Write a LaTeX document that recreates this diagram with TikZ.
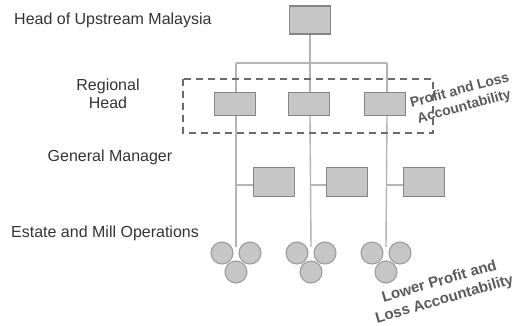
\documentclass[tikz,border=0pt]{standalone}
\usepackage{fontspec}
\setmainfont{Liberation Sans}
\definecolor{boxfill}{HTML}{C6C6C6}
\definecolor{boxline}{HTML}{858585}
\definecolor{conn}{HTML}{B4B4B4}
\definecolor{txt}{HTML}{333333}
\definecolor{dashcol}{HTML}{6A6A6A}
\definecolor{rot}{HTML}{5A5A5A}
\begin{document}
\begin{tikzpicture}[x=1pt,y=-1pt,
  orgbox/.style={draw=boxline,fill=boxfill,line width=1.3pt,inner sep=0pt,minimum width=41pt,minimum height=23pt},
  unit/.style={circle,draw=boxline!80,fill=boxfill,line width=1.1pt,inner sep=0pt,minimum size=22pt},
  conline/.style={draw=conn,line width=1.4pt},
  lbl/.style={text=txt,font=\fontsize{16}{18}\selectfont,inner sep=0pt,align=center},
  rotlbl/.style={text=rot,font=\bfseries\fontsize{14}{17}\selectfont,inner sep=0pt,align=center,rotate=15}]
\useasboundingbox (0,0) rectangle (515,325);
% labels
\node[lbl,anchor=west] (l1) at (14,20) {Head of Upstream Malaysia};
\node[lbl] (l2) at (108,94) {Regional\\Head};
\node[lbl] (l3) at (110,157) {General Manager};
\node[lbl,anchor=west] (l4) at (11,233) {Estate and Mill Operations};
% boxes
\node[orgbox,minimum height=28pt] (top) at (310,20) {};
\node[orgbox] (r1) at (235,104) {};
\node[orgbox] (r2) at (309,104) {};
\node[orgbox] (r3) at (385,104) {};
\node[orgbox,minimum height=29pt] (g1) at (274,182) {};
\node[orgbox,minimum height=29pt] (g2) at (347,182) {};
\node[orgbox,minimum height=29pt] (g3) at (424,182) {};
% circles
\foreach \i/\x in {1/236,2/311,3/386}{
  \node[unit] (a\i) at (\x-14,253) {};
  \node[unit] (b\i) at (\x+14,253) {};
  \node[unit] (c\i) at (\x,272) {};
  \coordinate (e\i) at (\x,247);
}
% connectors
\coordinate (hl) at (236,63);
\coordinate (hr) at (387,63);
\draw[conline] (top.south) -- (310,63);
\draw[conline] (hl) -- (hr);
\draw[conline] (hl) -- (236,92);
\draw[conline] (310,63) -- (310,92);
\draw[conline] (hr) -- (387,92);
\draw[conline] (236,116) -- (e1);
\draw[conline] (310,116) -- (e2);
\draw[conline] (387,116) -- (e3);
\draw[conline] (236,185) -- (g1.west |- 0,185);
\draw[conline] (310,185) -- (g2.west |- 0,185);
\draw[conline] (387,185) -- (g3.west |- 0,185);
% rotated labels
\node[rotlbl] (p1) at (462,99) {Profit and Loss\\Accountability};
\node[rotlbl,rotate=1,font=\bfseries\fontsize{15}{18.5}\selectfont] (p2) at (442,291) {Lower Profit and\\Loss Accountability};
% dashed region
\draw[dashcol,line width=1.8pt,dash pattern=on 7pt off 5pt] (183,79) rectangle (433,133);
\end{tikzpicture}
\end{document}
